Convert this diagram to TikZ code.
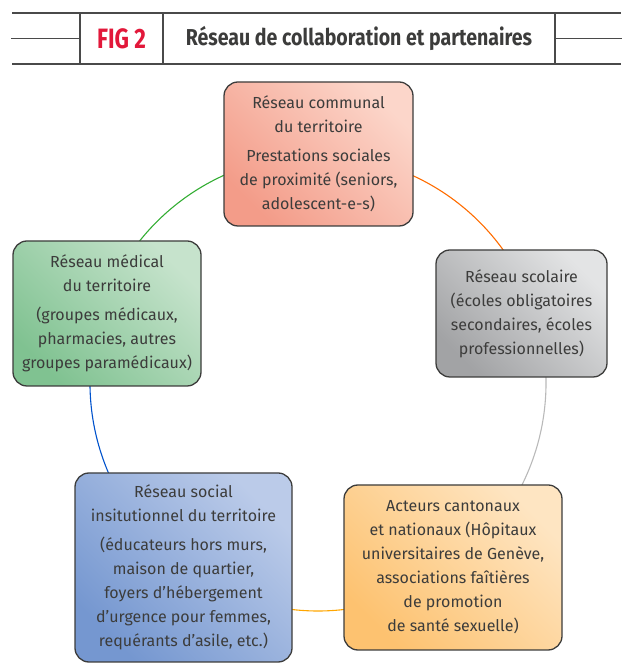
\documentclass[tikz,border=0pt]{standalone}
\usepackage{fontspec}
\setmainfont{Fira Sans}
\newfontfamily\headfont[FakeStretch=0.8]{Fira Sans}
\newfontfamily\titlefont[FakeStretch=0.85]{Fira Sans}
\usetikzlibrary{positioning}

\definecolor{inkgray}{HTML}{3C3C3B}
\definecolor{rulegray}{HTML}{4A4A4A}
\definecolor{figred}{HTML}{E2183A}
\definecolor{commdark}{HTML}{F39C89}
\definecolor{commlight}{HTML}{FCD6CA}
\definecolor{meddark}{HTML}{80C291}
\definecolor{medlight}{HTML}{C6E3CC}
\definecolor{scoldark}{HTML}{A2A3A5}
\definecolor{scollight}{HTML}{E3E4E5}
\definecolor{socdark}{HTML}{7597D0}
\definecolor{soclight}{HTML}{BBCBE9}
\definecolor{actdark}{HTML}{FDC270}
\definecolor{actlight}{HTML}{FEE5C2}

\begin{document}
\begin{tikzpicture}[x=1pt, y=1pt,
    rule/.style={draw=rulegray, line width=1.2pt},
    box/.style={draw=inkgray, line width=1.3pt, rounded corners=14pt,
      align=center, text=inkgray, inner sep=0pt,
      font=\fontsize{16}{24}\selectfont},
    tint/.style 2 args={bottom color=#1, top color=#2, shading angle=-45},
    link/.style={line width=1.1pt}]

  \useasboundingbox (0,0) rectangle (621,668);

  %% ===== HEADER =====
  \draw[rule] (12,655) -- (621,655);
  \draw[rule] (12,604) -- (621,604);
  \node[rule, minimum width=83pt, minimum height=51pt, text=figred,
    font=\headfont\bfseries\fontsize{28}{28}\selectfont] (figtag) at (121.5,629.5) {FIG 2};
  \node[rule, minimum width=392pt, minimum height=51pt, text=inkgray,
    font=\titlefont\bfseries\fontsize{23}{23}\selectfont] (figtitle) at (359,629.5)
    {Réseau de collaboration et partenaires};
  \draw[rule] (figtag.west) -- +(-68,0);
  \draw[rule] (figtitle.east) -- +(66,0);

  %% ===== RING OF LINKS (behind the boxes) =====
  \coordinate (hub) at (318,285);
  \def\rad{228}
  \draw[link, orange!85!red] ([shift={(90:\rad)}]hub) arc[start angle=90, end angle=19, radius=\rad];
  \draw[link, gray!55] ([shift={(19:\rad)}]hub) arc[start angle=19, end angle=-54, radius=\rad];
  \draw[link, orange!70!yellow] ([shift={(-54:\rad)}]hub) arc[start angle=-54, end angle=-126, radius=\rad];
  \draw[link, blue!60!cyan!80!black] ([shift={(-126:\rad)}]hub) arc[start angle=-126, end angle=-198, radius=\rad];
  \draw[link, green!60!black!80] ([shift={(162:\rad)}]hub) arc[start angle=162, end angle=90, radius=\rad];

  %% ===== BOXES =====
  % Communal network (top)
  \node[box, tint={commdark}{commlight}, minimum width=189pt, minimum height=144pt] (comm) at (318.5,514)
    {Réseau communal\\du territoire\\[5pt]Prestations sociales\\de proximité (seniors,\\adolescent-e-s)};

  % School network (right)
  \node[box, tint={scoldark}{scollight}, minimum width=171pt, minimum height=127pt] (scol) at (521.5,354.5)
    {Réseau scolaire\\(écoles obligatoires\\secondaires, écoles\\professionnelles)};

  % Cantonal and national actors (bottom right)
  \node[box, tint={actdark}{actlight}, minimum width=218pt, minimum height=165pt] (act) at (453,100.5)
    {Acteurs cantonaux\\et nationaux (Hôpitaux\\universitaires de Genève,\\associations faîtières\\de promotion\\de santé sexuelle)};

  % Institutional social network (bottom left)
  \node[box, tint={socdark}{soclight}, minimum width=217pt, minimum height=189pt] (soc) at (183.5,100.5)
    {Réseau social\\insitutionnel du territoire\\[5pt](éducateurs hors murs,\\maison de quartier,\\foyers d’hébergement\\d’urgence pour femmes,\\requérants d’asile, etc.)};

  % Medical network (left)
  \node[box, tint={meddark}{medlight}, minimum width=188pt, minimum height=145pt] (med) at (107,354.5)
    {Réseau médical\\du territoire\\[5pt](groupes médicaux,\\pharmacies, autres\\groupes paramédicaux)};

\end{tikzpicture}
\end{document}
